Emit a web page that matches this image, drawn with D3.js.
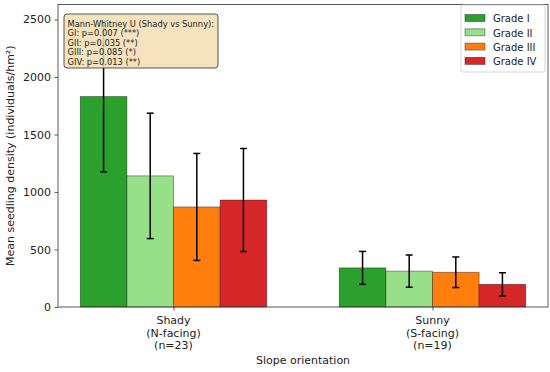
<!DOCTYPE html>
<html>
<head>
<meta charset="utf-8">
<script src="https://cdn.jsdelivr.net/npm/d3@7"></script>
<style>
  body { margin: 0; background: #fff; }
  svg { font-family: "DejaVu Sans", sans-serif; }
</style>
</head>
<body>
<svg id="chart" width="550" height="372"></svg>
<script>
// data
var slopes = ['Shady\n(N-facing)\n(n=23)', 'Sunny\n(S-facing)\n(n=19)'];
var grades = ['Grade I', 'Grade II', 'Grade III', 'Grade IV'];
var grade_colors = ['#2ca02c', '#98df8a', '#ff7f0e', '#d62728'];
var shady_means = [1830, 1140, 870, 930];
var shady_sd = [655, 545, 465, 448];
var sunny_means = [340, 312, 302, 197];
var sunny_sd = [143, 140, 133, 101];
var y_ticks = [0, 500, 1000, 1500, 2000, 2500];
var stats_lines = [
	'Mann-Whitney U (Shady vs Sunny):',
	'GI: p=0.007 (***)',
	'GII: p=0.035 (**)',
	'GIII: p=0.085 (*)',
	'GIV: p=0.013 (**)'
];

var margin = {left: 58, right: 2, top: 4.5, bottom: 65};
var width = 550, height = 372;
var bar_w = 0.18;

var svg = d3.select('#chart');
var x = d3.scaleLinear().domain([-0.446, 1.446]).range([margin.left, width - margin.right]);
var y = d3.scaleLinear().domain([0, 2630]).range([height - margin.bottom, margin.top]);

// Flatten into one row per bar.
var bars = [];
[shady_means, sunny_means].forEach(function(means, gi) {
	var sds = gi === 0 ? shady_sd : sunny_sd;
	means.forEach(function(m, k) {
		bars.push({group: gi, grade: k, mean: m, sd: sds[k], pos: gi + (k - 1.5) * bar_w});
	});
});

var plot = svg.append('g');

plot.selectAll('.bar')
	.data(bars)
	.enter().append('rect')
	.attr('class', 'bar')
	.attr('x', d => x(d.pos - bar_w / 2))
	.attr('width', d => x(bar_w) - x(0))
	.attr('y', d => y(d.mean))
	.attr('height', d => y(0) - y(d.mean))
	.style('fill', d => grade_colors[d.grade])
	.style('stroke', '#000')
	.style('stroke-opacity', 0.45)
	.style('stroke-width', 0.8);

// Error bars.
var err = plot.selectAll('.err').data(bars).enter().append('g').attr('class', 'err')
	.style('stroke', '#000').style('stroke-width', 1.5);
err.append('line')
	.attr('x1', d => x(d.pos)).attr('x2', d => x(d.pos))
	.attr('y1', d => y(d.mean - d.sd)).attr('y2', d => y(d.mean + d.sd));
[-1, 1].forEach(function(s) {
	err.append('line')
		.attr('x1', d => x(d.pos) - 3.5).attr('x2', d => x(d.pos) + 3.5)
		.attr('y1', d => y(d.mean + s * d.sd)).attr('y2', d => y(d.mean + s * d.sd));
});

// Axes.
var yAxis = svg.append('g')
	.attr('transform', 'translate(' + margin.left + ',0)')
	.call(d3.axisLeft(y).tickValues(y_ticks).tickFormat(d3.format('d')).tickSize(3.5).tickPadding(3.5));
var xAxis = svg.append('g')
	.attr('transform', 'translate(0,' + (height - margin.bottom) + ')')
	.call(d3.axisBottom(x).tickValues([0, 1]).tickSize(3.5).tickFormat(''));
[yAxis, xAxis].forEach(function(a) {
	a.select('.domain').remove();
	a.selectAll('line').style('stroke', '#333').style('stroke-width', 0.8);
	a.selectAll('text').style('font-size', '11px').style('font-family', '"DejaVu Sans", sans-serif').style('fill', '#222');
});

// x tick labels, multi-line.
slopes.forEach(function(lbl, i) {
	var t = svg.append('text')
		.attr('x', x(i))
		.attr('y', height - margin.bottom + 17)
		.attr('text-anchor', 'middle')
		.style('font-size', '11px')
		.style('fill', '#222');
	lbl.split('\n').forEach(function(line, j) {
		t.append('tspan').attr('x', x(i)).attr('dy', j === 0 ? 0 : 12.7).text(line);
	});
});

// Frame.
svg.append('rect')
	.attr('x', margin.left).attr('y', margin.top)
	.attr('width', width - margin.left - margin.right)
	.attr('height', height - margin.top - margin.bottom)
	.style('fill', 'none').style('stroke', '#333').style('stroke-width', 0.8);

// Axis titles.
svg.append('text')
	.attr('x', (margin.left + width - margin.right) / 2)
	.attr('y', 364)
	.attr('text-anchor', 'middle')
	.style('font-size', '11px').style('fill', '#222')
	.text('Slope orientation');
svg.append('text')
	.attr('transform', 'translate(14,' + y(1315) + ')rotate(-90)')
	.attr('text-anchor', 'middle')
	.style('font-size', '11px').style('fill', '#222')
	.text('Mean seedling density (individuals/hm²)');

// Stats annotation box.
var ann = svg.append('g').attr('transform', 'translate(64,14)');
ann.append('rect')
	.attr('width', 154).attr('height', 54).attr('rx', 3)
	.style('fill', '#f5deb3').style('fill-opacity', 0.85)
	.style('stroke', '#444').style('stroke-width', 0.9);
ann.selectAll('text')
	.data(stats_lines)
	.enter().append('text')
	.attr('x', 3.5)
	.attr('y', (d, i) => 12.5 + i * 9.6)
	.style('font-size', '8.3px').style('fill', '#222')
	.text(d => d);

// Legend.
var leg = svg.append('g').attr('transform', 'translate(461,5)');
leg.append('rect')
	.attr('width', 84).attr('height', 67).attr('rx', 2)
	.style('fill', '#fff').style('fill-opacity', 0.8)
	.style('stroke', '#ccc').style('stroke-width', 0.8);
var items = leg.selectAll('.item').data(grades).enter().append('g')
	.attr('transform', (d, i) => 'translate(0,' + (13.5 + i * 14.3) + ')');
items.append('rect')
	.attr('x', 4).attr('y', -4).attr('width', 20).attr('height', 7)
	.style('fill', (d, i) => grade_colors[i])
	.style('stroke', '#000').style('stroke-opacity', 0.45).style('stroke-width', 0.8);
items.append('text')
	.attr('x', 32).attr('y', 3.8)
	.style('font-size', '10px').style('fill', '#222')
	.text(d => d);
</script>
</body>
</html>
